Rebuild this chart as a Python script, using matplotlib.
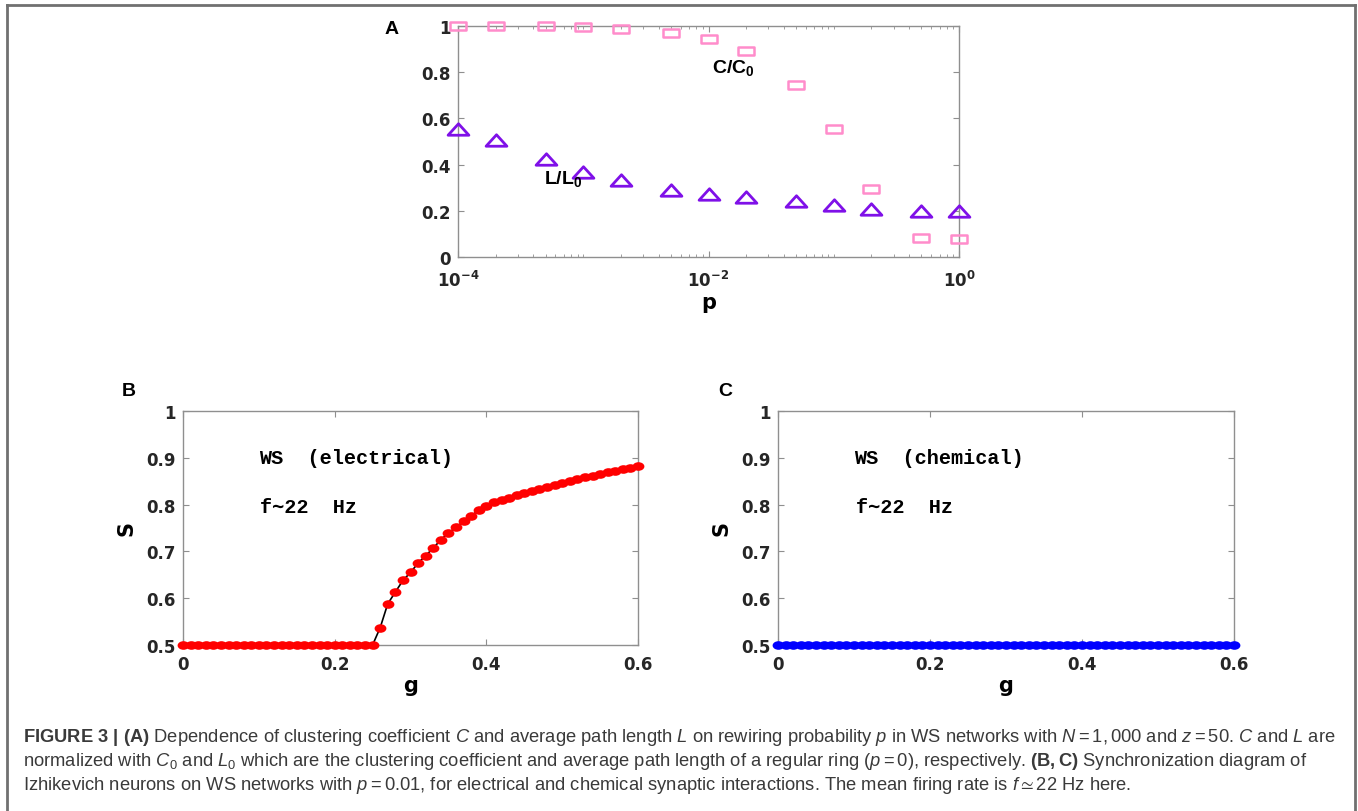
import matplotlib
matplotlib.use("Agg")
import matplotlib.pyplot as plt
import numpy as np
from matplotlib.lines import Line2D
from matplotlib.path import Path
from matplotlib.transforms import Affine2D

plt.rcParams['mathtext.fontset'] = 'custom'
plt.rcParams['mathtext.rm'] = 'Liberation Sans'
plt.rcParams['mathtext.it'] = 'Liberation Sans:italic'
plt.rcParams['mathtext.bf'] = 'Liberation Sans:bold'
plt.rcParams['mathtext.fallback'] = 'stixsans'

# (A) normalized clustering coefficient and path length vs rewiring probability
p_values = [1e-4, 2e-4, 5e-4, 1e-3, 2e-3, 5e-3, 1e-2, 2e-2, 5e-2, 0.1, 0.2, 0.5, 1.0]
c_ratio = [1.0, 1.0, 1.0, 0.995, 0.988, 0.971, 0.944, 0.892, 0.745, 0.556, 0.296, 0.081, 0.078]
l_ratio = [0.553, 0.505, 0.424, 0.370, 0.335, 0.292, 0.273, 0.261, 0.243, 0.226, 0.208, 0.198, 0.199]

# (B,C) synchronization S vs coupling g
g_values = np.round(np.arange(0, 0.601, 0.01), 2)
s_electrical = [0.5] * 26 + [
    0.537, 0.588, 0.613, 0.638, 0.655, 0.675, 0.691, 0.707, 0.725, 0.739,
    0.752, 0.764, 0.776, 0.788, 0.798, 0.805, 0.810, 0.815, 0.820, 0.825,
    0.829, 0.834, 0.838, 0.842, 0.847, 0.851, 0.855, 0.858, 0.862, 0.866,
    0.869, 0.872, 0.876, 0.879, 0.883]
s_chemical = [0.5] * 61

W, H = 1358, 812
fig = plt.figure(figsize=(W / 100, H / 100), dpi=100)


def box(left, top, right, bottom):
    return [left / W, 1 - bottom / H, (right - left) / W, (bottom - top) / H]


def fx(x):
    return x / W


def fy(y):
    return 1 - y / H


def shape(verts):
    return Path(verts + [verts[0]], [Path.MOVETO] + [Path.LINETO] * (len(verts) - 1) + [Path.CLOSEPOLY])


square = shape([(-1, -0.55), (1, -0.55), (1, 0.55), (-1, 0.55)])
triangle = shape([(-1, -0.55), (1, -0.55), (0, 0.55)])
ellipse = Path.unit_circle().transformed(Affine2D().scale(1, 0.73))

tick_font = dict(fontsize=12, fontweight='bold', family='DejaVu Sans', color='#262626')
mono = ['Liberation Mono', 'DejaVu Sans Mono']


def style_axes(ax):
    for s in ax.spines.values():
        s.set_color('#8f8f8f')
        s.set_linewidth(1.0)
    ax.tick_params(which='both', direction='in', top=True, right=True,
                   color='#8f8f8f', pad=5)
    ax.tick_params(which='major', length=4)
    ax.tick_params(which='minor', length=2.5)


# ---- panel A ----
axA = fig.add_axes(box(458, 27, 959, 258))
axA.plot(p_values, c_ratio, ls='none', marker=square, ms=11, mfc='none',
         mec='#ff8ccb', mew=1.8, clip_on=False, zorder=3)
axA.plot(p_values, l_ratio, ls='none', marker=triangle, ms=15, mfc='none',
         mec='#7f10e8', mew=2.0, clip_on=False, zorder=3)
axA.set_xscale('log')
axA.set_xlim(1e-4, 1)
axA.set_ylim(0, 1)
axA.set_xticks([1e-4, 1e-2, 1], [r'$\mathdefault{10^{-4}}$', r'$\mathdefault{10^{-2}}$',
                                  r'$\mathdefault{10^{0}}$'], **tick_font)
axA.set_xticks([k * 10.0 ** e for e in range(-4, 0) for k in range(2, 10)]
               + [1e-3, 1e-1], minor=True)
axA.set_xticklabels([], minor=True)
axA.set_yticks([0, 0.2, 0.4, 0.6, 0.8, 1], ['0', '0.2', '0.4', '0.6', '0.8', '1'], **tick_font)
style_axes(axA)
axA.tick_params(axis='x', which='major', pad=9)
axA.set_xlabel('p', fontsize=15, fontweight='bold', family='DejaVu Sans', labelpad=2)
axA.text(0.0107, 0.80, r'$\mathbf{C/C_0}$', fontsize=14, color='black', va='baseline')
axA.text(4.9e-4, 0.32, r'$\mathbf{L/L_0}$', fontsize=14, color='black', va='baseline')
fig.text(fx(385), fy(30), 'A', fontsize=14, fontweight='bold', family='Liberation Sans', va='center')

# ---- panels B and C ----
panels = [
    (box(183, 412, 638, 646), s_electrical, '#ff0000', 'black', 'WS  (electrical)', 'B', 122),
    (box(778, 412, 1234, 646), s_chemical, '#0000ff', '#0000ff', 'WS  (chemical)', 'C', 718),
]
for rect, s_vals, mcolor, lcolor, title, letter, lx in panels:
    ax = fig.add_axes(rect)
    ax.plot(g_values, s_vals, color=lcolor, lw=1.2, zorder=2, clip_on=False)
    ax.plot(g_values, s_vals, ls='none', marker=ellipse, ms=8.5, mfc=mcolor,
            mec=mcolor, mew=0, zorder=3, clip_on=False)
    ax.set_xlim(0, 0.6)
    ax.set_ylim(0.5, 1)
    ax.set_xticks([0, 0.2, 0.4, 0.6], ['0', '0.2', '0.4', '0.6'], **tick_font)
    ax.set_yticks([0.5, 0.6, 0.7, 0.8, 0.9, 1],
                  ['0.5', '0.6', '0.7', '0.8', '0.9', '1'], **tick_font)
    style_axes(ax)
    ax.tick_params(axis='x', which='major', pad=7)
    ax.set_xlabel('g', fontsize=15, fontweight='bold', family='DejaVu Sans', labelpad=2)
    ax.set_ylabel('S', fontsize=15, fontweight='bold', family='DejaVu Sans', labelpad=7)
    ax.text(0.1, 0.9, title, fontsize=14.5, fontweight='bold', family=mono, va='center')
    ax.text(0.102, 0.795, 'f\u223c22  Hz', fontsize=14.5, fontweight='bold',
            family=mono, va='center')
    fig.text(fx(lx), fy(392), letter, fontsize=14, fontweight='bold',
             family='Liberation Sans', va='center')

# ---- caption ----
caption = [
    r'$\mathbf{FIGURE\ 3\ |\ (A)}$ Dependence of clustering coefficient $C$ and average path '
    r'length $L$ on rewiring probability $p$ in WS networks with $N=1,000$ and $z=50$. '
    r'$C$ and $L$ are',
    r'normalized with $C_0$ and $L_0$ which are the clustering coefficient and average path '
    r'length of a regular ring ($p=0$), respectively. $\mathbf{(B,C)}$ Synchronization diagram of',
    r'Izhikevich neurons on WS networks with $p=0.01$, for electrical and chemical synaptic '
    r'interactions. The mean firing rate is $f\simeq22$ Hz here.',
]
for i, line in enumerate(caption):
    fig.text(fx(23), fy(742 + 24 * i), line, fontsize=13.2, family='Liberation Sans',
             color='#3a3a3a', va='baseline')

# outer frame, open at the bottom
frame = dict(color='#707070', lw=2, transform=fig.transFigure)
fig.add_artist(Line2D([fx(7), fx(7)], [fy(6), 0], **frame))
fig.add_artist(Line2D([fx(7), fx(1355)], [fy(6), fy(6)], **frame))
fig.add_artist(Line2D([fx(1355), fx(1355)], [fy(6), 0], **frame))

fig.savefig('out.png', dpi=100)
